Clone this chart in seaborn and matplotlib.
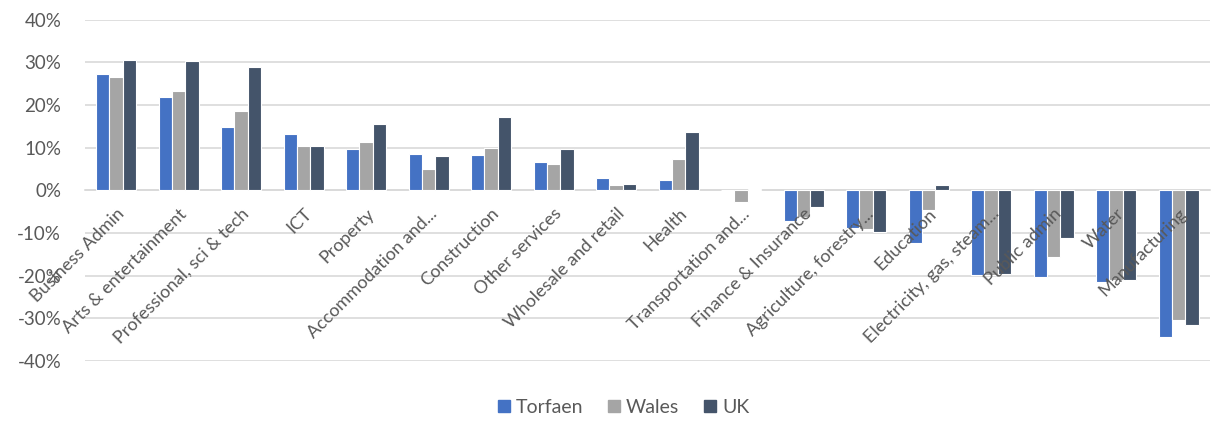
import pandas as pd
import matplotlib
matplotlib.use("Agg")
import matplotlib.pyplot as plt
import seaborn as sns
from matplotlib.ticker import FuncFormatter

sectors = [
    "Business Admin", "Arts & entertainment", "Professional, sci & tech", "ICT",
    "Property", "Accommodation and...", "Construction", "Other services",
    "Wholesale and retail", "Health", "Transportation and...", "Finance & Insurance",
    "Agriculture, forestry...", "Education", "Electricity, gas, steam...",
    "Public admin", "Water", "Manufacturing",
]
torfaen = [27.2, 21.8, 14.9, 13.3, 9.6, 8.6, 8.4, 6.7, 2.9, 2.4, 0.0, -7.2,
           -8.8, -12.3, -19.9, -20.3, -21.4, -34.3]
wales = [26.5, 23.4, 18.7, 10.4, 11.3, 4.9, 9.9, 6.3, 1.3, 7.4, -2.7, -6.3,
         -9.1, -4.5, -19.9, -15.7, -21.0, -30.4]
uk = [30.6, 30.4, 29.0, 10.3, 15.6, 8.1, 17.2, 9.7, 1.6, 13.8, 0.4, -3.9,
      -9.8, 1.3, -19.6, -11.2, -21.0, -31.5]
series = ["Torfaen", "Wales", "UK"]
colors = ["#4472C4", "#A5A5A5", "#44546A"]

df = pd.DataFrame({
    "sector": sectors * 3,
    "area": [s for s in series for _ in sectors],
    "value": torfaen + wales + uk,
})

sns.set_style("white")
plt.rcParams["font.family"] = ["Lato", "DejaVu Sans"]
text_col = "#595959"

fig = plt.figure(figsize=(12.11, 4.23), dpi=100)
ax = fig.add_axes([0.070, 0.147, 0.929, 0.806])

sns.barplot(data=df, x="sector", y="value", hue="area", order=sectors,
            hue_order=series, palette=colors, saturation=1, width=0.64,
            edgecolor="white", linewidth=0.8, ax=ax, zorder=3)

ax.set_ylim(-40, 40)
ax.set_yticks(range(-40, 41, 10))
ax.yaxis.set_major_formatter(FuncFormatter(lambda v, p: f"{int(v)}%"))
ax.grid(axis="y", color="#D9D9D9", linewidth=1.2)
ax.set_axisbelow(True)
# labels sit over the bars, like in the excel chart
ax.xaxis.set_zorder(5)
ax.set_xlim(-0.5, len(sectors) - 0.5)
ax.set_xlabel("")
ax.set_ylabel("")

for s in ["top", "right", "left"]:
    ax.spines[s].set_visible(False)
ax.spines["bottom"].set_position(("data", 0))
ax.spines["bottom"].set_color("#D9D9D9")
ax.spines["bottom"].set_linewidth(1.2)
ax.spines["bottom"].set_zorder(1)
ax.tick_params(axis="x", length=0, colors=text_col, labelsize=13, pad=11)
ax.tick_params(axis="y", length=0, colors=text_col, labelsize=13.5, pad=17)
for lab in ax.get_xticklabels():
    lab.set_rotation(45)
    lab.set_ha("right")
    lab.set_rotation_mode("anchor")
    lab.set_va("top")

ax.get_legend().remove()
handles = [plt.Rectangle((0, 0), 1, 1, color=c) for c in colors]
fig.legend(handles, series, loc="lower center", bbox_to_anchor=(0.515, -0.025),
           ncol=3, frameon=False, fontsize=14, handlelength=0.6,
           handleheight=0.6, handletextpad=0.3, columnspacing=1.3,
           labelcolor=text_col)

fig.savefig("out.png", dpi=100)
